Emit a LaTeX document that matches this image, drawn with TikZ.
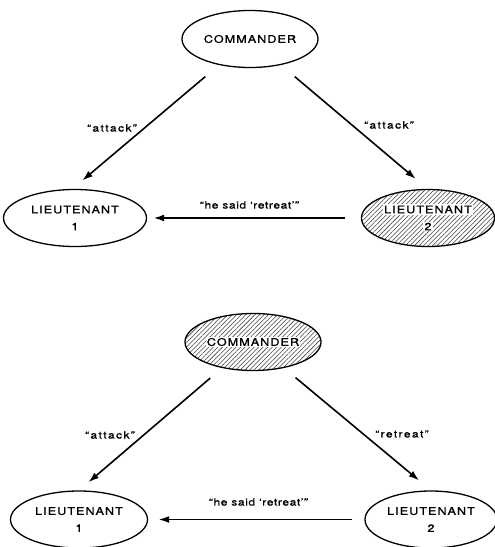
\documentclass[tikz,border=0pt]{standalone}
\usepackage{fontspec}
\setmainfont{TeX Gyre Heros}[FakeStretch=1.2, LetterSpace=10, FakeBold=1.2]
\newfontfamily\lblfont{TeX Gyre Heros}[FakeStretch=1.2, LetterSpace=14, FakeBold=0.8]
\newfontfamily\msgfont{TeX Gyre Heros}[FakeStretch=1.2, LetterSpace=6, FakeBold=0.8]
\usetikzlibrary{shapes.geometric,arrows.meta,patterns.meta}

\begin{document}
\begin{tikzpicture}[x=1pt,y=-1pt,
  unit/.style={ellipse, draw, line width=1.3pt, inner sep=0pt,
    minimum width=#1, minimum height=57pt, align=center,
    font=\fontsize{10.5}{17}\selectfont},
  unit/.default=136pt,
  hatched/.style={pattern={Lines[angle=45,distance=3.2pt,line width=0.55pt]},
    pattern color=black!75},
  tag/.style={fill=white, inner sep=1.2pt, font=\fontsize{10.5}{12}\selectfont},
  lbl/.style={font=\fontsize{10}{12}\lblfont, inner sep=0pt},
  said/.style={font=\fontsize{10}{12}\msgfont, inner sep=0pt},
  msg/.style={line width=1.6pt, -{Latex[length=10.5pt,width=7pt]}}
]
\useasboundingbox (0,0) rectangle (495,547);

% ---- honest commander, traitorous lieutenant 2 ----
\node[unit=136pt] (C1) at (250,39) {COMMANDER};
\node[unit=143pt] (A1) at (75,218) {LIEUTENANT\\1};
\node[unit=133pt, hatched] (B1) at (428,218) {};
\node[tag] (B1a) at ([yshift=8.5pt]B1.center) {LIEUTENANT};
\node[tag] (B1b) at ([yshift=-8.5pt]B1.center) {2};

\draw[msg, shorten <=18pt, shorten >=13pt] (C1.220) -- (A1.95);
\draw[msg, shorten <=18pt, shorten >=16pt] (C1.320) -- (B1.north);
\draw[msg, shorten <=16.5pt, shorten >=6.5pt] (B1.west) -- (A1.east);

\node[lbl] (m1) at (112,128) {“attack”};
\node[lbl] (m2) at (389,125) {“attack”};
\node[said] (m3) at (249.5,205) {“he said ‘retreat’”};

% ---- traitorous commander, honest lieutenants ----
\node[unit=136pt, hatched] (C2) at (253,342) {};
\node[tag] (C2a) at (C2.center) {COMMANDER};
\node[unit=137pt] (A2) at (79,519.5) {LIEUTENANT\\1};
\node[unit=132pt] (B2) at (431,519.5) {LIEUTENANT\\2};

\draw[msg, shorten <=15.5pt, shorten >=12.5pt] (C2.220) -- (A2.north);
\draw[msg, shorten <=15pt, shorten >=15.5pt] (C2.320) -- (B2.north);
\draw[msg, shorten <=12pt, shorten >=10.5pt] (B2.west) -- (A2.east);

\node[lbl] (n1) at (110,435) {“attack”};
\node[lbl] (n2) at (402,434) {“retreat”};
\node[said] (n3) at (258.5,502) {“he said ‘retreat’”};
\end{tikzpicture}
\end{document}
